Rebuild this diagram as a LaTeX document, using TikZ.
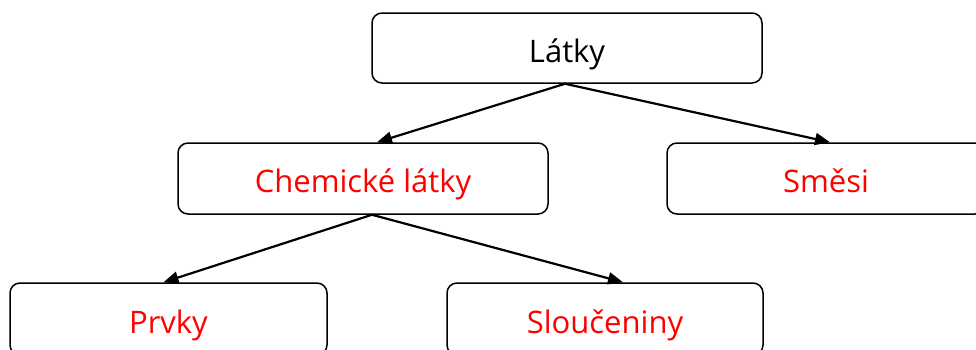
\documentclass[tikz,border=0pt]{standalone}
\usepackage{fontspec}
\setmainfont{Open Sans}
\usetikzlibrary{arrows.meta}
\begin{document}
\begin{tikzpicture}[x=1pt,y=-1pt,
  box/.style={draw=black, line width=1.5pt, rounded corners=10pt, fill=white,
    inner sep=0pt, text height=32pt, text depth=4pt,
    font=\fontsize{31}{36}\selectfont},
  arr/.style={line width=2.2pt, -{Triangle[length=15pt,width=12pt]}}]
\clip (0,0) rectangle (976,349);
\node[box, minimum width=390pt, minimum height=70pt] (latky) at (567,48) {Látky};
\node[box, minimum width=370pt, minimum height=71pt, text=red] (chem) at (363,178.5) {Chemické látky};
\node[box, minimum width=318pt, minimum height=71pt, text=red] (smesi) at (826,178.5) {Směsi};
\node[box, minimum width=317pt, minimum height=72pt, text=red] (prvky) at (168.5,319) {Prvky};
\node[box, minimum width=316pt, minimum height=72pt, text=red] (slouc) at (605,319) {Sloučeniny};
\draw[arr] ([xshift=-2pt]latky.south) -- ([xshift=14pt]chem.north);
\draw[arr] ([xshift=-2pt]latky.south) -- ([xshift=4pt]smesi.north);
\draw[arr] ([xshift=9pt]chem.south) -- ([xshift=-5pt]prvky.north);
\draw[arr] ([xshift=9pt]chem.south) -- ([xshift=18pt]slouc.north);
\end{tikzpicture}
\end{document}
